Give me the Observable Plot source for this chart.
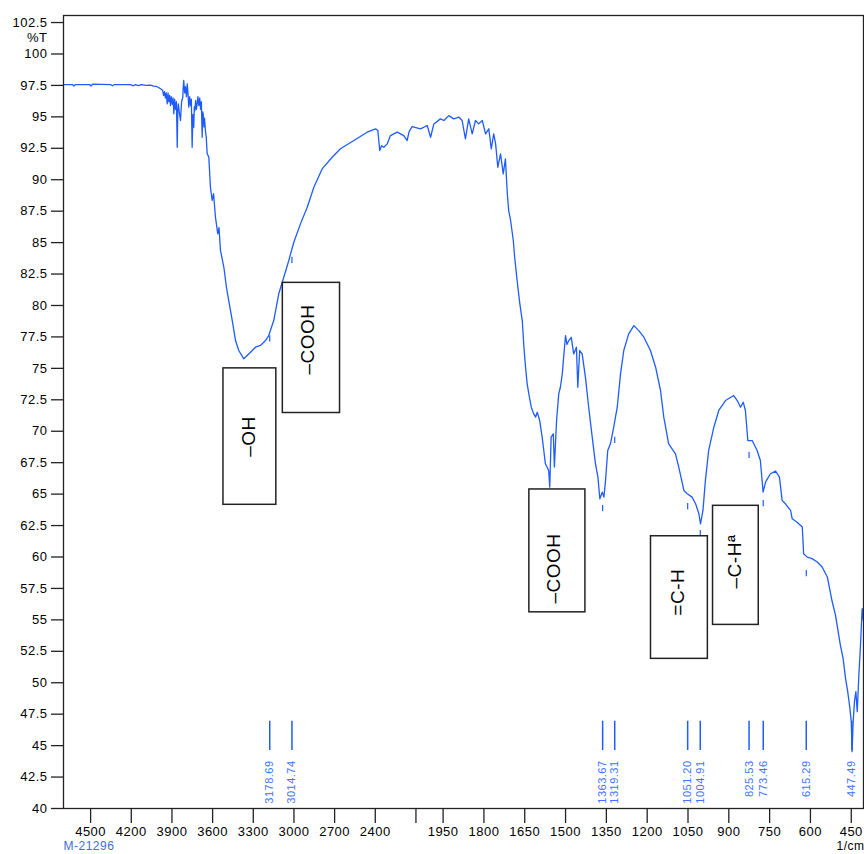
<!DOCTYPE html>
<html>
<head>
<meta charset="utf-8">
<script src="https://cdn.jsdelivr.net/npm/d3@7"></script>
<script src="https://cdn.jsdelivr.net/npm/@observablehq/plot@0.6"></script>
<style>
  html, body { margin: 0; padding: 0; background: #fff; }
  svg { display: block; }
</style>
</head>
<body>
<div id="chart"></div>
<script>
// ---- Spectrum (wavenumber in 1/cm, transmittance in %T) ----
const wavenumber = [
  4700, 4634, 4623, 4611, 4508, 4497, 4486, 4353, 4339, 4324, 4206, 4184, 4169, 4147, 4125, 4088, 4058, 4034, 4009, 3984,
  3968, 3962, 3955, 3948, 3942, 3935, 3929, 3923, 3917, 3911,
  3905, 3898, 3892, 3886, 3880, 3874, 3867, 3861, 3857, 3853,
  3845, 3837, 3829, 3820, 3817, 3813, 3806, 3800, 3793, 3787,
  3781, 3776, 3769, 3763, 3757, 3751, 3745, 3739, 3735, 3731,
  3725, 3720, 3714, 3708, 3702, 3695, 3689, 3683, 3677, 3673,
  3669, 3664, 3660, 3653, 3647, 3640,
  3628, 3623, 3616, 3603, 3593, 3579, 3562, 3553, 3542, 3517, 3498, 3481,
  3455, 3431, 3407, 3370, 3320, 3284, 3247, 3210, 3186, 3149, 3112, 3075, 3038, 3001, 2952, 2902, 2853, 2792, 2718, 2657,
  2558, 2460, 2398, 2381, 2367, 2354, 2337, 2312, 2288, 2238, 2190, 2177, 2165, 2151, 2128, 2066, 2017,
  1996, 1984, 1960, 1947, 1929, 1911, 1892, 1880, 1868, 1856, 1843, 1831, 1819, 1806, 1794, 1782, 1773, 1764, 1757, 1749,
  1739, 1729, 1721, 1714, 1709, 1702, 1692, 1687, 1678, 1668, 1659, 1653, 1647, 1641, 1635, 1626, 1617, 1610, 1604, 1595,
  1586, 1580, 1574, 1562, 1558, 1553, 1545, 1541, 1533, 1525, 1519, 1512, 1506, 1500, 1495, 1488, 1479, 1470, 1460, 1455,
  1448, 1439, 1427, 1415, 1402, 1390, 1381, 1374, 1365, 1359, 1353, 1345, 1335, 1323, 1310, 1298, 1286, 1268, 1249, 1231,
  1212, 1188, 1169, 1151, 1139, 1121, 1096, 1084, 1065, 1053, 1035, 1022, 1010, 1004, 995, 986, 974, 955, 937, 912,
  882, 869, 857, 847, 839, 830, 814, 796, 784, 774, 765, 747, 728, 714, 704, 692, 673, 667, 649, 630,
  625, 612, 594, 575, 557, 538, 520, 508, 496, 490, 480, 471, 463, 455, 450, 447, 443, 438, 433, 428,
  422, 416, 410, 406
];
const transmittance = [
  97.57, 97.57, 97.45, 97.57, 97.57, 97.45, 97.6, 97.57, 97.47, 97.57, 97.57, 97.47, 97.57, 97.48, 97.57, 97.5, 97.52, 97.45, 97.4, 97.23,
  97.1, 96.7, 97.0, 96.5, 96.9, 96.04, 96.9, 96.2, 96.7, 95.9,
  96.6, 96.0, 96.5, 95.24, 96.4, 95.6, 96.2, 92.58, 95.5, 96.04,
  95.3, 94.71, 96.2, 96.56, 97.3, 97.89, 96.9, 97.4, 96.6, 97.63,
  96.8, 95.77, 96.6, 95.9, 96.4, 92.58, 95.2, 94.17, 95.8, 95.48,
  96.3, 95.6, 96.04, 96.6, 95.9, 96.5, 95.6, 96.2, 93.38, 95.4,
  95.2, 94.2, 94.9, 93.9, 93.38, 92.06,
  91.8, 90.8, 89.4, 88.35, 88.9, 87.02, 85.7, 86.2, 84.37, 83.04, 81.45, 80.39,
  78.8, 77.21, 76.42, 75.76, 76.28, 76.68, 76.82, 77.21, 77.61, 78.8, 80.93, 82.25, 83.58, 85.03, 86.49, 87.81, 89.4, 90.86, 91.79, 92.46,
  93.12, 93.78, 94.05, 93.91, 92.32, 92.7, 92.58, 92.85, 93.51, 93.78, 93.51, 93.3, 93.12, 93.8, 94.23, 94.05, 94.31,
  93.38, 94.44, 94.84, 94.71, 95.1, 94.84, 94.97, 94.71, 93.25, 94.84, 93.65, 94.71, 94.44, 94.71, 93.65, 94.05, 92.46, 93.65, 92.85, 90.99,
  92.05, 90.47, 91.66, 88.88, 87.55, 86.76, 85.17, 83.84, 81.99, 80.13, 78.8, 76.68, 75.09, 73.77, 72.97, 71.91, 71.38, 71.12, 71.51, 70.85,
  69.53, 68.47, 67.41, 66.88, 65.55, 69.53, 69.8, 67.15, 70.85, 72.97, 73.5, 74.56, 76.15, 77.61, 76.9, 77.21, 77.47, 76.15, 76.68, 73.5,
  76.42, 76.15, 74.3, 71.91, 69.53, 67.41, 66.35, 64.63, 65.16, 64.76, 66.09, 68.47, 69.0, 70.32, 71.91, 74.56, 76.42, 77.74, 78.4, 78.0,
  77.48, 76.42, 75.09, 73.24, 71.12, 69.0, 68.2, 67.14, 65.29, 65.03, 64.76, 64.23, 63.44, 62.64, 63.7, 66.09, 68.47, 70.32, 71.65, 72.44,
  72.84, 72.44, 71.91, 72.31, 71.65, 69.26, 69.26, 68.47, 67.67, 65.16, 65.96, 66.62, 66.83, 66.35, 64.5, 64.23, 63.7, 63.04, 62.77, 62.38,
  60.26, 59.99, 59.87, 59.6, 59.2, 58.41, 56.44, 55.38, 53.79, 53.0, 51.94, 50.35, 49.29, 47.97, 46.91, 44.52, 46.91, 48.56, 49.29, 47.7,
  50.62, 53.0, 55.9, 55.0
];

// ---- Axis ticks ----
const xTicks = [4500, 4200, 3900, 3600, 3300, 3000, 2700, 2400, 2100, 1950, 1800, 1650, 1500, 1350, 1200, 1050, 900, 750, 600, 450];
const xTickLabels = ["4500", "4200", "3900", "3600", "3300", "3000", "2700", "2400", "", "1950", "1800", "1650", "1500", "1350", "1200", "1050", "900", "750", "600", "450"];
const yTicks = [40, 42.5, 45, 47.5, 50, 52.5, 55, 57.5, 60, 62.5, 65, 67.5, 70, 72.5, 75, 77.5, 80, 82.5, 85, 87.5, 90, 92.5, 95, 97.5, 100, 102.5];

// ---- Peak picks ----
const peakWavenumbers = [3178.69, 3014.74, 1363.67, 1319.31, 1051.20, 1004.91, 825.53, 773.46, 615.29, 447.49];
const peakLabels = ["3178.69", "3014.74", "1363.67", "1319.31", "1051.20", "1004.91", "825.53", "773.46", "615.29", "447.49"];
const peakMarkT = [77.6, 83.84, 64.09, 69.53, 64.25, 62.1, 68.33, 64.49, 58.92, null];

// ---- Band annotation boxes ----
const bandLabels = ["–OH", "–COOH", "–COOH", "=C-H", "–C-Hª"];
const bandX1 = [3520, 3082, 1633, 1186, 958];
const bandX2 = [3130, 2660, 1427, 977, 790];
const bandT1 = [64.15, 71.45, 55.6, 51.9, 54.6];
const bandT2 = [75.0, 81.8, 65.37, 61.65, 64.07];
const bandLabelX = [3335, 2900, 1541, 1088, 877];
const bandLabelT = [69.58, 77.29, 59.08, 57.2, 59.64];

// ---- Build tables ----
const spectrum = wavenumber.map((w, i) => ({w, t: transmittance[i]}));
const peaks = peakWavenumbers.map((w, i) => ({w, label: peakLabels[i], mark: peakMarkT[i]}));
const peakMarks = peaks.filter(d => d.mark != null);
const bands = bandLabels.map((label, i) => ({
  label, x1: bandX1[i], x2: bandX2[i], y1: bandT1[i], y2: bandT2[i], lx: bandLabelX[i], ly: bandLabelT[i]
}));
const xLabelOf = new Map(xTicks.map((v, i) => [v, xTickLabels[i]]));

const lineBlue = "#1f5cff";
const labelBlue = "#3f74ff";

const chart = Plot.plot({
  width: 864,
  height: 854,
  marginTop: 15,
  marginLeft: 63,
  marginRight: 1,
  marginBottom: 46,
  style: {
    fontFamily: "Arial, 'Liberation Sans', sans-serif",
    fontSize: "13px",
    color: "#000",
    background: "#fff",
    overflow: "visible"
  },
  x: {type: "linear", domain: [4700, 2000, 405], range: [63, 429, 863]},
  y: {domain: [40, 103.06]},
  marks: [
    Plot.line(spectrum, {x: "w", y: "t", stroke: lineBlue, strokeWidth: 1.3}),
    Plot.ruleX(peakMarks, {x: "w", y1: "mark", y2: d => d.mark - 0.5, stroke: lineBlue, strokeWidth: 1.2}),
    Plot.ruleX(peaks, {x: "w", y1: 44.61, y2: 46.94, stroke: lineBlue, strokeWidth: 1.5}),
    Plot.text(peaks, {x: "w", y: 43.82, text: "label", rotate: -90, textAnchor: "end", lineAnchor: "middle", fontSize: 11, fill: labelBlue}),
    Plot.rect(bands, {x1: "x1", x2: "x2", y1: "y1", y2: "y2", fill: "#fff", stroke: "#222", strokeWidth: 1.5}),
    Plot.text(bands, {x: "lx", y: "ly", text: "label", rotate: -90, textAnchor: "middle", lineAnchor: "middle", fontSize: 19, fill: "#000"}),
    Plot.frame({stroke: "#222", strokeWidth: 1.3}),
    Plot.axisX({ticks: xTicks, tickSize: 15, tickPadding: 3, tickFormat: d => xLabelOf.get(d), label: null, stroke: "#222", strokeWidth: 1.3, fontSize: 13}),
    Plot.axisY({ticks: yTicks, tickSize: 12, tickPadding: 4, tickFormat: d => String(d), label: null, stroke: "#222", strokeWidth: 1.3, fontSize: 13}),
    Plot.text(["%T"], {frameAnchor: "top-left", dx: -16, dy: 22, textAnchor: "end", lineAnchor: "middle", fontSize: 13}),
    Plot.text(["M-21296"], {frameAnchor: "bottom-left", dx: 0, dy: 38, textAnchor: "start", lineAnchor: "middle", fontSize: 12, fill: "#3b6fd6"}),
    Plot.text(["1/cm"], {frameAnchor: "bottom-right", dx: 1, dy: 38, textAnchor: "end", lineAnchor: "middle", fontSize: 12})
  ]
});
d3.select(chart).selectAll("text").style("letter-spacing", "0.5px");
document.getElementById("chart").appendChild(chart);
</script>
</body>
</html>
